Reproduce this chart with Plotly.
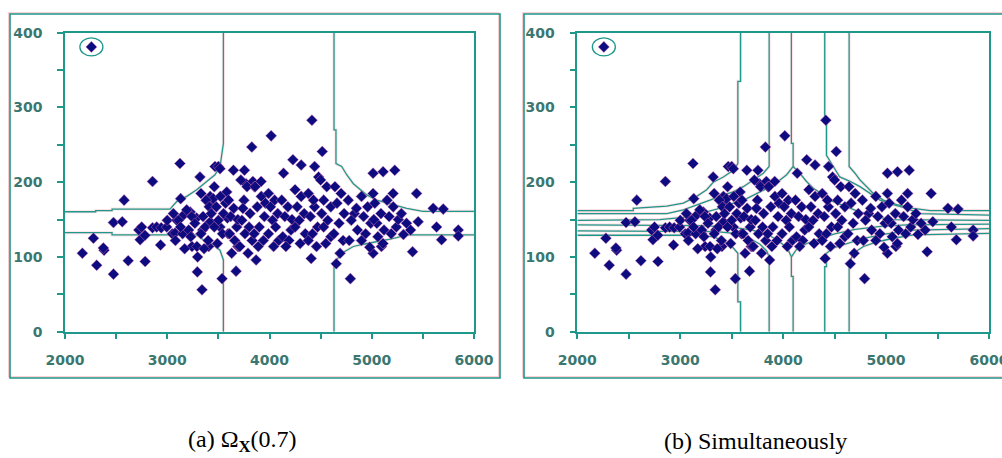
import plotly.graph_objects as go

# ---------------- data ----------------
# scatter points (same data set shown in both panels)
sparse_x = [2258, 2170, 2278, 2310, 2382, 2375, 2474, 2474, 2560, 2578, 2618, 2722, 2735, 2750, 2782, 2784,
            2856, 2856, 2897, 2935, 2941, 2995, 3000, 3049, 3076, 3092, 3124, 3131, 3160, 3209, 3225, 3242,
            3287, 3297, 3294, 3320, 3340, 3346, 3405, 3420, 3435, 3450, 3467, 3500, 3516, 3516, 3536, 3582,
            3588, 3595, 3647, 3673, 3690, 3755, 3771, 3827, 3837, 3853, 3869, 3918, 4016, 4137, 4229, 4310,
            4415, 4441, 4480, 4516, 4408, 4653, 4791, 5013, 5111, 5225, 5013, 5209, 5438, 5399, 5454, 5601,
            5699, 5634, 5683, 5846, 5846, 5013, 5095]
sparse_y = [381, 105, 125, 89, 109, 112, 77, 146, 147, 176, 95, 136, 123, 140, 129, 94,
            201, 139, 140, 116, 139, 140, 149, 131, 132, 149, 225, 178, 156, 131, 160, 114,
            152, 100, 80, 207, 56, 136, 114, 181, 169, 178, 221, 221, 140, 218, 71, 187,
            152, 131, 216, 81, 114, 216, 198, 247, 201, 194, 96, 201, 262, 212, 230, 223,
            283, 221, 207, 241, 98, 91, 71, 212, 214, 216, 185, 185, 185, 107, 147, 165,
            164, 140, 123, 136, 128, 105, 114]

dense_x = [3060, 3110, 3150, 3080, 3170, 3130,
           3190, 3240, 3270, 3210, 3290, 3230,
           3330, 3380, 3410, 3350, 3420, 3370, 3330, 3400, 3360, 3430,
           3460, 3520, 3480, 3550, 3500, 3460, 3540, 3490, 3570,
           3600, 3650, 3620, 3680, 3610, 3660, 3700, 3630, 3690,
           3720, 3780, 3750, 3810, 3730, 3800, 3760, 3830, 3710, 3790, 3740,
           3860, 3920, 3880, 3950, 3900, 3850, 3940, 3890, 3960,
           3990, 4050, 4010, 4080, 4030, 4060, 3990, 4090, 4040,
           4120, 4180, 4150, 4210, 4130, 4190, 4160, 4220,
           4250, 4310, 4270, 4340, 4290, 4250, 4350, 4300,
           4380, 4440, 4400, 4470, 4420, 4380, 4460, 4430,
           4500, 4560, 4530, 4600, 4510, 4570, 4530, 4600, 4550,
           4640, 4700, 4660, 4730, 4680, 4630, 4720, 4690,
           4770, 4830, 4800, 4860, 4780, 4850,
           4900, 4960, 4920, 4990, 4940, 4900, 4980,
           5030, 5090, 5050, 5120, 5060, 5110, 5020,
           5150, 5210, 5170, 5240, 5190, 5260,
           5290, 5340, 5380, 5310]
dense_y = [158, 149, 131, 122, 111, 140,
           163, 154, 145, 136, 114, 127,
           185, 176, 167, 154, 147, 140, 131, 122, 111, 158,
           194, 181, 167, 158, 149, 140, 131, 118, 172,
           176, 165, 154, 140, 131, 122, 114, 105, 150,
           203, 194, 176, 158, 149, 140, 131, 122, 114, 105, 165,
           194, 181, 167, 154, 140, 131, 122, 114, 172,
           185, 176, 167, 158, 149, 140, 131, 122, 114,
           176, 167, 154, 136, 127, 122, 114, 150,
           190, 181, 167, 158, 149, 140, 131, 118,
           185, 167, 154, 140, 131, 122, 114, 176,
           203, 194, 176, 167, 158, 149, 140, 127, 118,
           194, 185, 172, 158, 145, 131, 122, 105,
           176, 158, 149, 136, 122, 165,
           181, 167, 154, 145, 131, 122, 113,
           172, 158, 145, 136, 127, 118, 150,
           176, 167, 154, 140, 131, 150,
           158, 145, 136, 130]

outlier_x, outlier_y = 2258, 381

# contour lines, panel (a)
a_lines = [
    ([3549, 3549, 3516, 3467, 3386, 3288, 3190, 3092, 3027, 2460, 2460, 2300, 2300, 2000],
     [400, 252, 221, 210, 201, 190, 181, 174, 164, 164, 162, 162, 160.5, 160.5]),
    ([3549, 3549, 3516, 3450, 3352, 3288, 2460, 2460, 2000],
     [0, 96, 109, 116, 123, 129.4, 129.4, 132.5, 132.5]),
    ([4631, 4631, 4650, 4650, 4706, 4755, 4820, 4885, 4951, 5048, 5146, 5276, 5342, 5500, 6000],
     [400, 270, 270, 225, 221, 210, 198, 190, 183, 176, 172, 167, 165, 161, 161]),
    ([4631, 4631, 4650, 4657, 4706, 4755, 4820, 4918, 5048, 5146, 5244, 5342, 6000],
     [0, 87, 87, 96, 105, 109, 114, 117, 120, 123, 126, 129.4, 129.4]),
]

# contour lines, panel (b)
b_lines = [
    ([3586, 3586, 3560, 3560, 3516, 3419, 3321, 3257, 3160, 3030, 2869, 2544, 2544, 2000],
     [400, 335, 335, 225, 216, 207, 200, 190, 181, 172, 168, 165, 162, 162]),
    ([3864, 3864, 3807, 3710, 3613, 3516, 3419, 3289, 3160, 3030, 2869, 2000],
     [400, 221, 212, 203, 194, 187, 183, 176, 170, 163, 158, 158]),
    ([4080, 4080, 4097, 4097, 4034, 3904, 3775, 3646, 3516, 3354, 3192, 3030, 2800, 2000],
     [400, 252, 252, 221, 210, 196, 187, 178, 172, 164, 158, 153, 150, 149]),
    ([4097, 4162, 4227, 4293, 4390, 4487, 4617, 4747, 4909, 5038, 6000],
     [221, 212, 201, 192, 183, 174, 167, 160, 154, 150, 149]),
    ([4404, 4404, 4421, 4421, 4550, 4650, 4747, 4844, 4941, 5070, 5200, 5330, 6000],
     [400, 280, 280, 236, 207, 201, 194, 185, 176, 170, 165, 158, 156]),
    ([4641, 4641, 4698, 4747, 4812, 4876, 4974, 5103, 5265, 5427, 6000],
     [400, 221, 212, 203, 194, 185, 176, 170, 165, 162, 162]),
    ([3586, 3586, 3560, 3560, 3516, 3467, 3419, 3321, 3200, 2000],
     [0, 40, 40, 105, 112, 117, 122, 127, 129, 129]),
    ([3864, 3864, 3840, 3775, 3700, 3600, 3500, 3350, 2000],
     [0, 100, 108, 117, 123, 128, 132, 134, 135]),
    ([4097, 4097, 4080, 4080, 4040, 3950, 3850, 3700, 3500, 3200, 2000],
     [0, 74, 74, 100, 112, 122, 130, 136, 140, 142, 143]),
    ([4080, 4130, 4230, 4360, 4500, 4700, 4950, 5200, 6000],
     [100, 110, 118, 125, 131, 137, 141, 143, 144]),
    ([4404, 4404, 4421, 4421, 4487, 4617, 4780, 5006, 5265, 6000],
     [0, 87, 87, 105, 112, 118, 125, 131, 136, 138]),
    ([4641, 4641, 4682, 4780, 4909, 5070, 5265, 6000],
     [0, 91, 105, 114, 120, 125, 129.4, 131.6]),
]

y_tick_vals = [0, 50, 100, 150, 200, 250, 300, 350, 400]
y_tick_text = ["0", "", "100", "", "200", "", "300", "", "400"]
x_tick_vals = [2000, 2500, 3000, 3500, 4000, 4500, 5000, 5500, 6000]
x_tick_text = ["2000", "", "3000", "", "4000", "", "5000", "", "6000"]

captions = ["(a) Ω<sub><b>X</b></sub>(0.7)", "(b) Simultaneously"]

# ---------------- figure ----------------
TEAL = "#1f978a"
HALO = "rgba(240,120,130,0.22)"
LABEL = "#3a7770"
NAVY = "#0c0c80"
W, H = 1002, 458

xs = sparse_x + dense_x
ys = sparse_y + dense_y

fig = go.Figure()
for xa, ya, lines in (("x", "y", a_lines), ("x2", "y2", b_lines)):
    for lx, ly in lines:
        fig.add_trace(go.Scatter(x=lx, y=ly, mode="lines", xaxis=xa, yaxis=ya,
                                 line=dict(color=HALO, width=3), hoverinfo="skip", showlegend=False))
        fig.add_trace(go.Scatter(x=lx, y=ly, mode="lines", xaxis=xa, yaxis=ya,
                                 line=dict(color=TEAL, width=1.3), hoverinfo="skip", showlegend=False))
    fig.add_trace(go.Scatter(x=xs, y=ys, mode="markers", xaxis=xa, yaxis=ya, showlegend=False,
                             marker=dict(symbol="diamond", size=8.5, color=NAVY,
                                         line=dict(color="rgba(225,110,170,0.45)", width=1))))

def px_x(p):
    return p / W

def px_y(p):
    return (H - p) / H

xdom_a = [px_x(65), px_x(474)]
xdom_b = [px_x(577.3), px_x(989)]
ydom = [px_y(331.7), px_y(32.7)]

tickfont = dict(family="DejaVu Sans", size=14, color=LABEL, weight="bold")
common_x = dict(range=[2000, 6000], tickvals=x_tick_vals, ticktext=x_tick_text, ticks="outside",
                ticklen=6, tickwidth=1.5, tickcolor=TEAL, showline=True, linecolor=TEAL, linewidth=1.5,
                mirror=True, showgrid=False, zeroline=False, tickfont=tickfont, ticklabelstandoff=9,
                automargin=False, ticklabeloverflow="allow")
common_y = dict(range=[0, 400], domain=ydom, tickvals=y_tick_vals, ticktext=y_tick_text, ticks="outside",
                ticklen=6, tickwidth=1.5, tickcolor=TEAL, showline=True, linecolor=TEAL, linewidth=1.5,
                mirror=True, showgrid=False, zeroline=False, tickfont=tickfont, ticklabelstandoff=12,
                automargin=False)

fig.update_layout(
    width=W, height=H, margin=dict(l=0, r=0, t=0, b=0, autoexpand=False),
    paper_bgcolor="white", plot_bgcolor="white",
    xaxis=dict(domain=xdom_a, anchor="y", **common_x),
    yaxis=dict(anchor="x", **common_y),
    xaxis2=dict(domain=xdom_b, anchor="y2", **common_x),
    yaxis2=dict(anchor="x2", **common_y),
)

# outer frames of the two panels
for x0, x1 in ((10, 500), (524, 1012)):
    fig.add_shape(type="rect", xref="paper", yref="paper",
                  x0=px_x(x0 - 1.2), x1=px_x(x1 - 1.2), y0=px_y(378 - 1.2), y1=px_y(14 - 1.2),
                  line=dict(color="rgba(240,120,130,0.45)", width=1.3))
    fig.add_shape(type="rect", xref="paper", yref="paper",
                  x0=px_x(x0), x1=px_x(x1), y0=px_y(378), y1=px_y(14),
                  line=dict(color=TEAL, width=1.6))

# circle around the outlier in both panels
for xr, yr in (("x", "y"), ("x2", "y2")):
    fig.add_shape(type="circle", xref=xr, yref=yr, xsizemode="pixel", ysizemode="pixel",
                  xanchor=outlier_x, yanchor=outlier_y, x0=-11.5, x1=11.5, y0=-9, y1=9,
                  line=dict(color=TEAL, width=1.3))

for cx, txt in zip((242, 755), captions):
    fig.add_annotation(x=px_x(cx), y=px_y(441), xref="paper", yref="paper", text=txt,
                       showarrow=False, xanchor="center", yanchor="middle",
                       font=dict(family="Liberation Serif", size=24, color="black"))

fig.write_html("out.html", config={"displayModeBar": False},
               post_script="document.body.style.margin='0';")
